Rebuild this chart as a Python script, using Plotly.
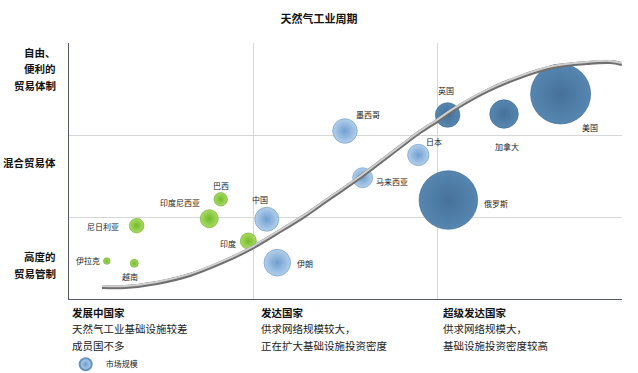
import plotly.graph_objects as go

# ---------------- data ----------------
chart_title = "天然气工业周期"

countries = ["伊拉克", "越南", "尼日利亚", "印度尼西亚", "巴西", "印度",
             "中国", "伊朗", "马来西亚", "墨西哥", "日本",
             "俄罗斯", "英国", "加拿大", "美国"]
stage_x = [0.205, 0.354, 0.367, 0.761, 0.823, 0.973,
           1.073, 1.130, 1.593, 1.497, 1.895,
           2.058, 2.054, 2.360, 2.667]
trade_y = [0.463, 0.435, 0.894, 0.979, 1.216, 0.707,
           0.972, 0.443, 1.479, 2.049, 1.756,
           1.207, 2.244, 2.256, 2.500]
market_size = [11, 16, 53, 81, 45, 64,
               144, 177, 100, 151, 114,
               858, 151, 204, 900]
group = ["发展中国家"] * 6 + ["发达国家"] * 5 + ["超级发达国家"] * 4

curve_x = [0.179, 0.304, 0.477, 0.656, 0.835, 0.982, 1.128, 1.269, 1.362,
           1.595, 1.796, 1.904, 1.996, 2.083, 2.267, 2.446, 2.625, 2.810, 2.935, 3.0]
curve_y = [0.146, 0.146, 0.195, 0.293, 0.451, 0.610, 0.805, 1.000, 1.146,
           1.512, 1.854, 2.037, 2.171, 2.305, 2.537, 2.707, 2.829, 2.878, 2.890, 2.866]

y_band_labels = [["高度的", "贸易管制"], ["混合贸易体"], ["自由、", "便利的", "贸易体制"]]
y_band_pos = [0.415, 1.659, 2.805]

stage_titles = ["发展中国家", "发达国家", "超级发达国家"]
stage_notes = [["天然气工业基础设施较差", "成员国不多"],
               ["供求网络规模较大，", "正在扩大基础设施投资密度"],
               ["供求网络规模大，", "基础设施投资密度较高"]]
legend_name = "市场规模"

# ---------------- styles ----------------
FONT = "Noto Sans CJK SC"
group_style = {
    "发展中国家": dict(center="#a8dc62", edge="#74b92b", line="#68a825"),
    "发达国家": dict(center="#b3d0ec", edge="#6f9fcf", line="#6592c0"),
    "超级发达国家": dict(center="#5687b0", edge="#45709a", line="#3c6488"),
}
label_shift = {  # pixel offsets of labels relative to bubble centres
    "伊拉克": (-19, 1), "越南": (-4, -13), "尼日利亚": (-34, -1),
    "印度尼西亚": (-29, 16), "巴西": (0, 14), "印度": (-20, -2),
    "中国": (-7, 20), "伊朗": (28, -1), "马来西亚": (29, -4),
    "墨西哥": (23, 16), "日本": (16, 14), "俄罗斯": (48, -3),
    "英国": (-2, 24), "加拿大": (3, -32), "美国": (29, -33),
}

fig = go.Figure()

for g in ["发展中国家", "发达国家", "超级发达国家"]:
    idx = [i for i, gg in enumerate(group) if gg == g]
    st = group_style[g]
    fig.add_trace(go.Scatter(
        x=[stage_x[i] for i in idx], y=[trade_y[i] for i in idx],
        mode="markers", name=g, showlegend=False,
        text=[countries[i] for i in idx],
        marker=dict(size=[market_size[i] for i in idx], sizemode="area", sizeref=0.5,
                    color=st["center"], opacity=1,
                    gradient=dict(type="radial", color=st["edge"]),
                    line=dict(color=st["line"], width=0.6)),
    ))

# S-curve: dark shadow + light tube
fig.add_trace(go.Scatter(x=curve_x, y=curve_y, mode="lines", showlegend=False,
                         line=dict(color="#6f6f6f", width=4, shape="spline"), hoverinfo="skip"))
fig.add_trace(go.Scatter(x=curve_x, y=[v + 0.013 for v in curve_y], mode="lines", showlegend=False,
                         line=dict(color="#cfcfcf", width=2, shape="spline"), hoverinfo="skip"))

# legend entry
fig.add_trace(go.Scatter(x=[None], y=[None], mode="markers", name=legend_name, showlegend=True,
                         marker=dict(size=12, color=group_style["发达国家"]["center"],
                                     gradient=dict(type="radial", color=group_style["发达国家"]["edge"]),
                                     line=dict(color="#6592c0", width=0.6))))

ann = []
for name, xv, yv in zip(countries, stage_x, trade_y):
    dx, dy = label_shift[name]
    ann.append(dict(x=xv, y=yv, xref="x", yref="y", text=name, showarrow=False,
                    xshift=dx, yshift=dy, font=dict(family=FONT, size=8, color="#222222")))

LINE = 16.5
for lines, pos in zip(y_band_labels, y_band_pos):
    n = len(lines)
    for i, t in enumerate(lines):
        ann.append(dict(x=0, y=pos, xref="paper", yref="y", text="<b>%s</b>" % t, showarrow=False,
                        xanchor="right", yanchor="middle", xshift=-11,
                        yshift=(n - 1) / 2 * LINE - i * LINE,
                        font=dict(family=FONT, size=10.5, color="#111111")))

x_text_shift = [1, 6, 3]
for k, (ttl, notes) in enumerate(zip(stage_titles, stage_notes)):
    ann.append(dict(x=k, y=0, xref="x", yref="paper", text="<b>%s</b>" % ttl, showarrow=False,
                    xanchor="left", yanchor="middle", xshift=x_text_shift[k], yshift=-13,
                    font=dict(family=FONT, size=10.5, color="#111111")))
    for j, t in enumerate(notes):
        ann.append(dict(x=k, y=0, xref="x", yref="paper", text=t, showarrow=False,
                        xanchor="left", yanchor="middle", xshift=x_text_shift[k],
                        yshift=-29.5 - j * 16.5,
                        font=dict(family=FONT, size=10.5, color="#222222")))

fig.update_layout(
    width=638, height=373,
    margin=dict(l=69, r=16, t=43, b=74, autoexpand=False),
    paper_bgcolor="white", plot_bgcolor="white",
    font=dict(family=FONT, size=10, color="#111111"),
    title=dict(text="<b>%s</b>" % chart_title, x=0.5, xref="container", xanchor="center",
               y=1 - 19 / 373, yref="container", yanchor="middle",
               font=dict(family=FONT, size=11, color="#111111")),
    xaxis=dict(range=[0, 3], tickvals=[1, 2], showticklabels=False, ticks="",
               showgrid=True, gridcolor="#d6d6d6", gridwidth=1, zeroline=False,
               showline=True, linecolor="#55586a", linewidth=1.2, mirror=False, fixedrange=True),
    yaxis=dict(range=[0, 256 / 82], tickvals=[1, 2], showticklabels=False, ticks="",
               showgrid=True, gridcolor="#d6d6d6", gridwidth=1, zeroline=False,
               showline=True, linecolor="#55586a", linewidth=1.2, mirror=False, fixedrange=True),
    showlegend=True,
    legend=dict(x=-0.006, y=-0.255, xref="paper", yref="paper", xanchor="left", yanchor="middle",
                bgcolor="rgba(0,0,0,0)", font=dict(family=FONT, size=8, color="#222222"),
                itemsizing="constant", itemwidth=30),
    annotations=ann,
)

fig.write_html("out.html", config={"displayModeBar": False},
               post_script="document.body.style.margin='0';")
